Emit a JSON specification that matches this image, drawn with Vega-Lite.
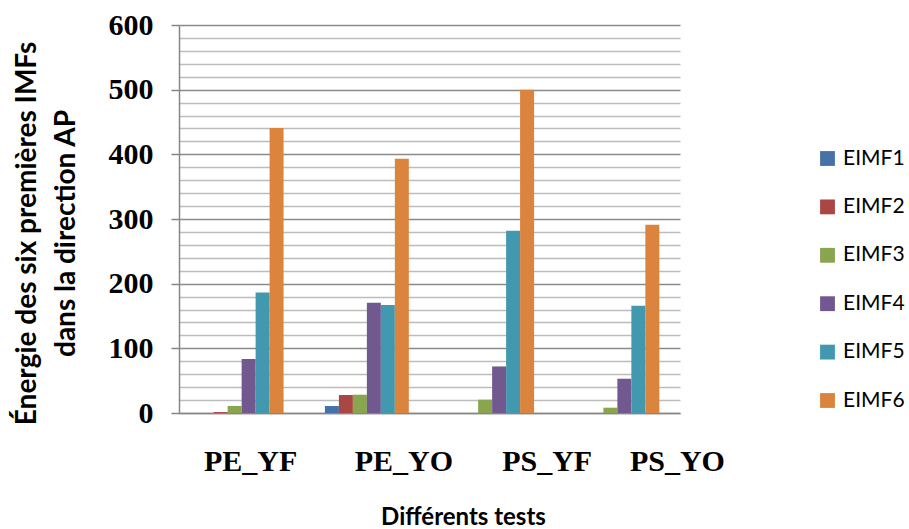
{
  "$schema": "https://vega.github.io/schema/vega-lite/v6.json",
  "width": 501,
  "height": 388,
  "autosize": {"type": "none"},
  "padding": {"left": 179, "top": 25, "right": 229, "bottom": 116},
  "background": "white",
  "data": {
    "values": [
      {"test": "PE_YF", "serie": "EIMF1", "energie": 0},
      {"test": "PE_YF", "serie": "EIMF2", "energie": 1.5},
      {"test": "PE_YF", "serie": "EIMF3", "energie": 10.8},
      {"test": "PE_YF", "serie": "EIMF4", "energie": 83.5},
      {"test": "PE_YF", "serie": "EIMF5", "energie": 186.5},
      {"test": "PE_YF", "serie": "EIMF6", "energie": 440.7},
      {"test": "PE_YO", "serie": "EIMF1", "energie": 10.8},
      {"test": "PE_YO", "serie": "EIMF2", "energie": 27.8},
      {"test": "PE_YO", "serie": "EIMF3", "energie": 28.3},
      {"test": "PE_YO", "serie": "EIMF4", "energie": 170.6},
      {"test": "PE_YO", "serie": "EIMF5", "energie": 167},
      {"test": "PE_YO", "serie": "EIMF6", "energie": 393.2},
      {"test": "PS_YF", "serie": "EIMF1", "energie": 0},
      {"test": "PS_YF", "serie": "EIMF2", "energie": 0},
      {"test": "PS_YF", "serie": "EIMF3", "energie": 20.6},
      {"test": "PS_YF", "serie": "EIMF4", "energie": 72},
      {"test": "PS_YF", "serie": "EIMF5", "energie": 281.9},
      {"test": "PS_YF", "serie": "EIMF6", "energie": 500},
      {"test": "PS_YO", "serie": "EIMF1", "energie": 0},
      {"test": "PS_YO", "serie": "EIMF2", "energie": 0},
      {"test": "PS_YO", "serie": "EIMF3", "energie": 8.2},
      {"test": "PS_YO", "serie": "EIMF4", "energie": 53},
      {"test": "PS_YO", "serie": "EIMF5", "energie": 166},
      {"test": "PS_YO", "serie": "EIMF6", "energie": 291}
    ]
  },
  "mark": {"type": "bar"},
  "encoding": {
    "x": {
      "field": "test",
      "type": "nominal",
      "sort": null,
      "scale": {"paddingInner": 0.33, "paddingOuter": 0.165},
      "axis": {
        "title": "Différents tests",
        "titleFont": "Lato",
        "titleFontSize": 24,
        "titleFontWeight": "bold",
        "titleColor": "black",
        "titleX": 284,
        "titleY": 111,
        "titleBaseline": "alphabetic",
        "labelAngle": 0,
        "labelFont": "Liberation Serif",
        "labelFontSize": 30,
        "labelFontWeight": "bold",
        "labelColor": "black",
        "labelPadding": 57,
        "labelBaseline": "alphabetic",
        "labelOverlap": false,
        "labelBound": false,
        "labelOffset": {
          "condition": [
            {"test": "datum.value === 'PE_YF'", "value": 9},
            {"test": "datum.value === 'PE_YO'", "value": 37},
            {"test": "datum.value === 'PS_YF'", "value": 55}
          ],
          "value": 60
        },
        "ticks": false,
        "domainColor": "#868686",
        "domainWidth": 1.5,
        "grid": false
      }
    },
    "xOffset": {"field": "serie", "type": "nominal", "scale": {"paddingInner": 0, "paddingOuter": 0}},
    "y": {
      "field": "energie",
      "type": "quantitative",
      "scale": {"domain": [0, 600], "nice": false},
      "axis": {
        "values": [0, 20, 40, 60, 80, 100, 120, 140, 160, 180, 200, 220, 240, 260, 280, 300, 320, 340, 360, 380, 400, 420, 440, 460, 480, 500, 520, 540, 560, 580, 600],
        "title": ["Énergie des six premières IMFs", "dans la direction AP"],
        "titleFont": "Lato",
        "titleFontSize": 28,
        "titleFontWeight": "bold",
        "titleColor": "black",
        "titleX": -152,
        "titleY": 208,
        "titleAngle": -90,
        "titleAlign": "center",
        "titleBaseline": "middle",
        "titleLineHeight": 39,
        "labelFont": "Liberation Serif",
        "labelFontSize": 30,
        "labelFontWeight": "bold",
        "labelColor": "black",
        "labelPadding": 18,
        "labelOverlap": false,
        "labelBound": false,
        "labelOpacity": {"condition": {"test": "datum.value % 100 === 0", "value": 1}, "value": 0},
        "tickOpacity": {"condition": {"test": "datum.value % 100 === 0", "value": 1}, "value": 0},
        "tickSize": 8,
        "tickColor": "#868686",
        "tickWidth": 1.5,
        "domainColor": "#868686",
        "domainWidth": 1.5,
        "grid": true,
        "gridColor": {"condition": {"test": "datum.value % 100 === 0", "value": "#8a8a8a"}, "value": "#bcbcbc"},
        "gridWidth": 1.5
      }
    },
    "color": {
      "field": "serie",
      "type": "nominal",
      "scale": {
        "domain": ["EIMF1", "EIMF2", "EIMF3", "EIMF4", "EIMF5", "EIMF6"],
        "range": ["#4572A7", "#AA4643", "#89A54E", "#71588F", "#4198AF", "#DB843D"]
      },
      "legend": {
        "title": null,
        "orient": "none",
        "legendX": 638,
        "legendY": 123,
        "symbolType": "square",
        "symbolSize": 220,
        "symbolStrokeWidth": 0,
        "labelFont": "Lato",
        "labelFontSize": 21,
        "labelColor": "black",
        "labelOffset": 5,
        "rowPadding": 26.4
      }
    }
  },
  "config": {
    "view": {"stroke": null}
  }
}
